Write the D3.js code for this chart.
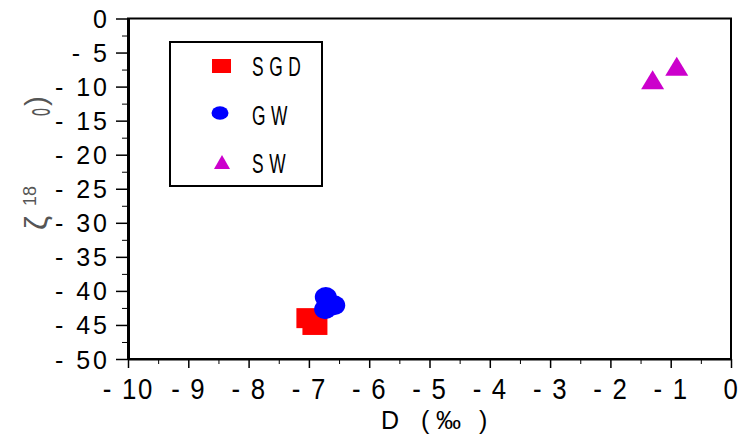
<!DOCTYPE html>
<html>
<head>
<meta charset="utf-8">
<script src="https://cdn.jsdelivr.net/npm/d3@7"></script>
<style>
  body { margin: 0; background: #fff; }
  text { font-family: 'Liberation Sans', Arial, sans-serif; fill: #000; }
</style>
</head>
<body>
<svg id="chart" width="747" height="439"></svg>
<script>
// data
const sgdX = [-7.0, -6.9];
const sgdY = [-44, -45];
const gwX = [-6.72, -6.58, -6.73];
const gwY = [-40.9, -42.1, -42.7];
const swX = [-1.3, -0.9];
const swY = [-9, -7];
const xTicks = d3.range(-10, 0.5, 1);
const yTicks = d3.range(-50, 0.5, 5);
const legendNames = ['SGD', 'GW', 'SW'];
const colors = ['#ff0000', '#0000ff', '#cc00cc'];

let svg = d3.select('#chart');
let x = d3.scaleLinear().domain([-10, 0]).range([128, 731]);
let y = d3.scaleLinear().domain([-50, 0]).range([359, 18.5]);

const fmt = (d) => (d < 0 ? '- ' + Math.abs(d) : '0');

// frame
svg.append('rect')
  .attr('x', x(-10)).attr('y', y(0))
  .attr('width', x(0) - x(-10)).attr('height', y(-50) - y(0))
  .attr('fill', 'none').attr('stroke', '#000').attr('stroke-width', 2);

// minor ticks
svg.append('g')
  .attr('transform', `translate(0,${y(-50)})`)
  .call(d3.axisBottom(x).tickValues(d3.range(-9.5, 0, 1)).tickSize(5).tickFormat(''))
  .call((g) => g.select('.domain').remove());
svg.append('g')
  .attr('transform', `translate(${x(-10)},0)`)
  .call(d3.axisLeft(y).tickValues(d3.range(-47.5, 0, 5)).tickSize(6).tickFormat(''))
  .call((g) => g.select('.domain').remove());

// x axis
let xg = svg.append('g')
  .attr('transform', `translate(0,${y(-50)})`)
  .call(d3.axisBottom(x).tickValues(xTicks).tickSize(9).tickSizeOuter(0).tickFormat(fmt));
xg.select('.domain').attr('stroke-width', 2);
xg.selectAll('.tick line').attr('stroke-width', 1.5);
xg.selectAll('text')
  .attr('y', 40).attr('dy', null)
  .attr('transform', 'scale(0.86,1)')
  .style('font-size', '30px').style('letter-spacing', '2px');

// y axis
let yg = svg.append('g')
  .attr('transform', `translate(${x(-10)},0)`)
  .call(d3.axisLeft(y).tickValues(yTicks).tickSize(12).tickSizeOuter(0).tickFormat(fmt));
yg.select('.domain').attr('stroke-width', 3);
yg.selectAll('.tick line').attr('stroke-width', 1.5);
yg.selectAll('text')
  .attr('x', -18).attr('dy', '0.36em')
  .style('font-size', '25px').style('letter-spacing', '3px');

// x axis title
let xt = svg.append('text').attr('y', 429).style('font-size', '25px');
xt.append('tspan').attr('x', 381).attr('transform', 'scale(0.8,1)').text('D');
xt.append('tspan').attr('x', 421).text('(');
xt.append('tspan').attr('x', 436).text('‰');
xt.append('tspan').attr('x', 479).text(')');

// y axis title (rendered glyphs as they appear)
let yt = svg.append('g');
yt.append('text')
  .attr('transform', 'translate(47,230) rotate(-90)')
  .style('font-size', '32px').style('fill', '#555')
  .text('ζ');
yt.append('text')
  .attr('transform', 'translate(36,206) rotate(-90)')
  .style('font-size', '18px').style('fill', '#555')
  .text('18');
yt.append('text')
  .attr('transform', 'translate(50,116) rotate(-90) scale(0.55,1.3)')
  .style('font-size', '26px').style('fill', '#555')
  .text('o');
yt.append('text')
  .attr('transform', 'translate(46,106) rotate(-90)')
  .style('font-size', '30px').style('fill', '#555')
  .text(')');

// triangle path
const tri = (cx, cy, w, h) =>
  `M${cx},${cy - h / 2}L${cx + w / 2},${cy + h / 2}L${cx - w / 2},${cy + h / 2}Z`;

// points
svg.selectAll('.sgd')
  .data(sgdX.map((v, i) => [v, sgdY[i]]))
  .enter().append('rect')
  .attr('x', (d) => x(d[0]) - 12.5).attr('y', (d) => y(d[1]) - 10)
  .attr('width', 25).attr('height', 20)
  .attr('fill', colors[0]);
svg.selectAll('.gw')
  .data(gwX.map((v, i) => [v, gwY[i]]))
  .enter().append('ellipse')
  .attr('cx', (d) => x(d[0])).attr('cy', (d) => y(d[1]))
  .attr('rx', 11).attr('ry', 10)
  .attr('fill', colors[1]);
svg.selectAll('.sw')
  .data(swX.map((v, i) => [v, swY[i]]))
  .enter().append('path')
  .attr('d', (d) => tri(x(d[0]), y(d[1]), 23, 19))
  .attr('fill', colors[2]);

// legend
let lg = svg.append('g');
lg.append('rect')
  .attr('x', 170).attr('y', 42).attr('width', 152).attr('height', 144)
  .attr('fill', '#fff').attr('stroke', '#000').attr('stroke-width', 2);
lg.append('rect').attr('x', 212).attr('y', 59).attr('width', 19).attr('height', 14).attr('fill', colors[0]);
lg.append('ellipse').attr('cx', 220).attr('cy', 113).attr('rx', 8.5).attr('ry', 6.7).attr('fill', colors[1]);
lg.append('path').attr('d', tri(222, 162, 16, 14)).attr('fill', colors[2]);
const legendBase = [76, 125, 172.5];
legendNames.forEach((name, i) => {
  lg.append('text')
    .attr('transform', `translate(252,${legendBase[i]}) scale(0.62,1)`)
    .style('font-size', '28px').style('letter-spacing', '9px')
    .text(name);
});
</script>
</body>
</html>
